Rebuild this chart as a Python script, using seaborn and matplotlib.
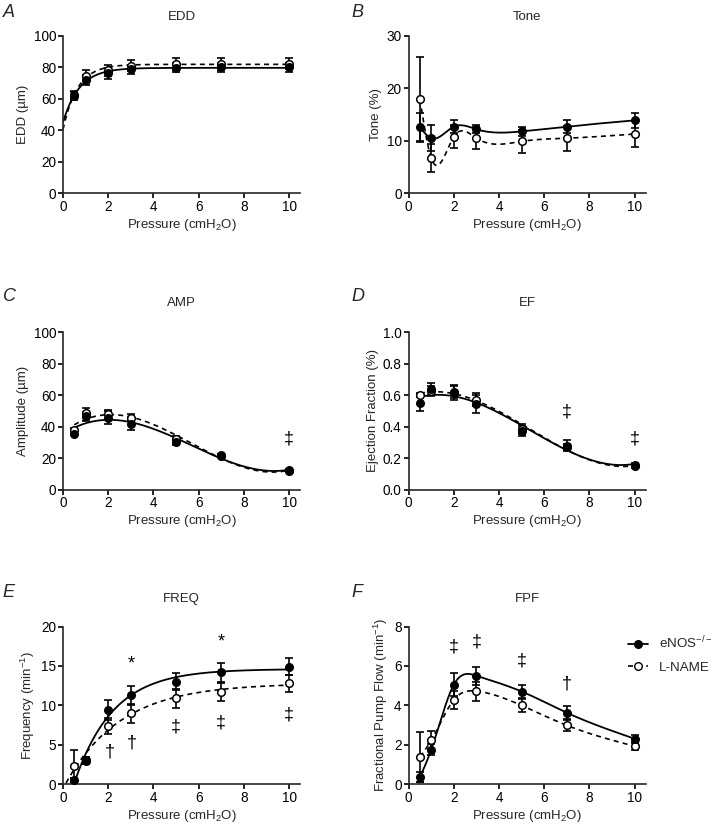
"""
Lymphatic pump function vs. transmural pressure, eNOS-/- vs L-NAME.
Six panels (EDD, Tone, AMP, EF, FREQ, FPF), mean +/- SEM with fitted curves.
"""

import numpy as np
import pandas as pd
import matplotlib
matplotlib.use("Agg")
import matplotlib.pyplot as plt
from matplotlib.lines import Line2D
from matplotlib.ticker import FormatStrFormatter
import seaborn as sns

# Data
PRESSURE = [0.5, 1, 2, 3, 5, 7, 10]

EDD_ENOS = [62.0, 72.0, 76.3, 78.8, 79.9, 80.0, 80.0]
EDD_ENOS_SEM = [2.5, 3.0, 3.5, 3.0, 3.0, 3.0, 3.0]
EDD_LNAME = [62.5, 74.6, 78.0, 81.1, 82.4, 82.4, 82.4]
EDD_LNAME_SEM = [2.5, 3.5, 3.5, 3.5, 3.8, 3.8, 3.5]

TONE_ENOS = [12.6, 10.5, 12.7, 12.2, 11.8, 12.7, 13.9]
TONE_ENOS_SEM = [2.7, 2.5, 1.3, 0.8, 0.9, 1.2, 1.4]
TONE_LNAME = [17.9, 6.7, 10.8, 10.5, 9.9, 10.5, 11.3]
TONE_LNAME_SEM = [8.1, 2.6, 2.2, 2.1, 2.2, 2.4, 2.5]

AMP_ENOS = [35.5, 46.5, 45.7, 41.4, 30.2, 21.8, 12.2]
AMP_ENOS_SEM = [1.0, 3.0, 4.0, 3.4, 2.0, 1.0, 1.0]
AMP_LNAME = [38.0, 48.6, 47.8, 45.7, 32.4, 21.5, 12.0]
AMP_LNAME_SEM = [1.0, 3.4, 2.8, 2.2, 1.5, 1.0, 1.0]

EF_ENOS = [0.55, 0.638, 0.613, 0.543, 0.37, 0.279, 0.158]
EF_ENOS_SEM = [0.05, 0.04, 0.043, 0.055, 0.032, 0.034, 0.01]
EF_LNAME = [0.60, 0.625, 0.621, 0.571, 0.385, 0.27, 0.148]
EF_LNAME_SEM = [0.01, 0.03, 0.04, 0.04, 0.03, 0.02, 0.01]

FREQ_ENOS = [0.5, 2.9, 9.4, 11.3, 13.0, 14.2, 14.9]
FREQ_ENOS_SEM = [0.3, 0.4, 1.3, 1.2, 1.1, 1.2, 1.1]
FREQ_LNAME = [2.3, 3.0, 7.4, 9.0, 10.9, 11.7, 12.8]
FREQ_LNAME_SEM = [2.0, 0.4, 1.0, 1.2, 1.2, 1.15, 1.1]

FPF_ENOS = [0.35, 1.75, 5.05, 5.5, 4.7, 3.62, 2.3]
FPF_ENOS_SEM = [0.25, 0.3, 0.6, 0.46, 0.34, 0.32, 0.2]
FPF_LNAME = [1.38, 2.22, 4.28, 4.72, 3.99, 2.98, 1.92]
FPF_LNAME_SEM = [1.26, 0.46, 0.45, 0.48, 0.34, 0.27, 0.2]

# significance marks: (pressure, y, symbol)
AMP_MARKS = [(10, 32.4, "‡")]
EF_MARKS = [(7, 0.49, "‡"), (10, 0.32, "‡")]
FREQ_MARKS = [(3, 15.2, "*"), (7, 18.1, "*"), (2.05, 4.1, "†"), (3.05, 5.25, "†"),
              (5, 7.3, "‡"), (7, 7.8, "‡"), (10, 8.8, "‡")]
FPF_MARKS = [(2, 6.94, "‡"), (3, 7.24, "‡"), (5, 6.27, "‡"), (7, 5.09, "†")]


# Curve helpers
def fit_exp(x, y, xs):
    # one-phase association y = a + b*exp(-k x), k by grid search
    x = np.asarray(x, float)
    y = np.asarray(y, float)
    best = None
    for k in np.linspace(0.05, 6, 600):
        M = np.column_stack([np.ones_like(x), np.exp(-k * x)])
        coef, res, _, _ = np.linalg.lstsq(M, y, rcond=None)
        err = np.sum((M @ coef - y) ** 2)
        if best is None or err < best[0]:
            best = (err, k, coef)
    _, k, (a, b) = best
    return a + b * np.exp(-k * xs)


def fit_poly(x, y, xs, deg=3):
    return np.polyval(np.polyfit(x, y, deg), xs)


def spline(x, y, xs):
    # natural cubic spline through the means
    x = np.asarray(x, float)
    y = np.asarray(y, float)
    n = len(x)
    h = np.diff(x)
    A = np.zeros((n, n))
    r = np.zeros(n)
    A[0, 0] = A[-1, -1] = 1
    for i in range(1, n - 1):
        A[i, i - 1] = h[i - 1]
        A[i, i] = 2 * (h[i - 1] + h[i])
        A[i, i + 1] = h[i]
        r[i] = 3 * ((y[i + 1] - y[i]) / h[i] - (y[i] - y[i - 1]) / h[i - 1])
    c = np.linalg.solve(A, r)
    b = (y[1:] - y[:-1]) / h - h * (2 * c[:-1] + c[1:]) / 3
    d = (c[1:] - c[:-1]) / (3 * h)
    idx = np.clip(np.searchsorted(x, xs) - 1, 0, n - 2)
    dx = xs - x[idx]
    return y[idx] + b[idx] * dx + c[idx] * dx ** 2 + d[idx] * dx ** 3


def curve(kind, y):
    if kind == "exp":
        xs = np.linspace(0, 10, 300)
        ys = fit_exp(PRESSURE, y, xs)
        keep = ys >= 0
        return xs[keep], ys[keep]
    xs = np.linspace(0.5, 10, 300)
    if kind == "poly":
        return xs, fit_poly(PRESSURE, y, xs)
    return xs, spline(PRESSURE, y, xs)


# Style
sns.set_theme(style="ticks")
plt.rcParams["font.family"] = ["Liberation Sans", "DejaVu Sans"]
plt.rcParams["mathtext.default"] = "regular"
plt.rcParams["axes.linewidth"] = 1.2
plt.rcParams["xtick.major.width"] = 1.2
plt.rcParams["ytick.major.width"] = 1.2
plt.rcParams["xtick.major.size"] = 3.5
plt.rcParams["ytick.major.size"] = 3.5
plt.rcParams["xtick.major.pad"] = 1.5
plt.rcParams["ytick.major.pad"] = 1.5

fig = plt.figure(figsize=(7.2, 8.3), dpi=100)

LEFT = [0.0875, 0.5676]
BOTTOM = [0.7671, 0.4102, 0.0554]
W, H = 0.3296, 0.1897

panels = [
    # letter, title, ylabel, enos, enos_sem, lname, lname_sem, fit, ylim, ystep, marks
    ("A", "EDD", "EDD (µm)", EDD_ENOS, EDD_ENOS_SEM, EDD_LNAME, EDD_LNAME_SEM, "exp", 100, 20, []),
    ("B", "Tone", "Tone (%)", TONE_ENOS, TONE_ENOS_SEM, TONE_LNAME, TONE_LNAME_SEM, "spline", 30, 10, []),
    ("C", "AMP", "Amplitude (µm)", AMP_ENOS, AMP_ENOS_SEM, AMP_LNAME, AMP_LNAME_SEM, "poly", 100, 20, AMP_MARKS),
    ("D", "EF", "Ejection Fraction (%)", EF_ENOS, EF_ENOS_SEM, EF_LNAME, EF_LNAME_SEM, "poly", 1.0, 0.2, EF_MARKS),
    ("E", "FREQ", "Frequency (min$^{-1}$)", FREQ_ENOS, FREQ_ENOS_SEM, FREQ_LNAME, FREQ_LNAME_SEM, "exp", 20, 5, FREQ_MARKS),
    ("F", "FPF", "Fractional Pump Flow (min$^{-1}$)", FPF_ENOS, FPF_ENOS_SEM, FPF_LNAME, FPF_LNAME_SEM, "spline", 8, 2, FPF_MARKS),
]

TITLE_Y = [0.980, 0.635, 0.278]
LETTER_Y = [0.985, 0.643, 0.286]

for i, (letter, title, ylabel, en, en_sem, ln, ln_sem, kind, ymax, ystep, marks) in enumerate(panels):
    row, col = divmod(i, 2)
    ax = fig.add_axes([LEFT[col], BOTTOM[row], W, H])

    # fitted curves
    xs, ys = curve(kind, ln)
    sns.lineplot(x=xs, y=ys, ax=ax, color="black", lw=1.2, linestyle=(0, (3, 2.5)), zorder=2)
    xs, ys = curve(kind, en)
    sns.lineplot(x=xs, y=ys, ax=ax, color="black", lw=1.3, zorder=2)

    # means +/- SEM
    ax.errorbar(PRESSURE, ln, yerr=ln_sem, fmt="none", ecolor="black", elinewidth=1.2,
                capsize=3, capthick=1.2, zorder=3)
    ax.errorbar(PRESSURE, en, yerr=en_sem, fmt="none", ecolor="black", elinewidth=1.2,
                capsize=3, capthick=1.2, zorder=3)
    sns.scatterplot(x=PRESSURE, y=ln, ax=ax, color="white", edgecolor="black",
                    linewidth=1.1, s=30, zorder=4)
    sns.scatterplot(x=PRESSURE, y=en, ax=ax, color="black", edgecolor="black",
                    linewidth=1.0, s=30, zorder=5)

    for px, py, sym in marks:
        ax.text(px, py, sym, ha="center", va="center", fontsize=13, color="black")

    ax.set_xlim(0, 10.5)
    ax.set_ylim(0, ymax)
    ax.set_xticks(range(0, 11, 2))
    ax.set_yticks(np.arange(0, ymax + ystep / 2, ystep))
    if ymax == 1.0:
        ax.yaxis.set_major_formatter(FormatStrFormatter("%.1f"))
    ax.tick_params(labelsize=9.8, colors="black", direction="out")
    ax.set_xlabel("Pressure (cmH$_2$O)", fontsize=9.5, labelpad=2)
    ax.set_ylabel(ylabel, fontsize=9.5, labelpad=3)
    sns.despine(ax=ax)

    cx = LEFT[col] + W * 0.5
    fig.text(cx, TITLE_Y[row], title, ha="center", va="center", fontsize=9.5)
    fig.text(0.004 if col == 0 else 0.488, LETTER_Y[row], letter, ha="left", va="center",
             fontsize=13, style="italic")

# legend to the right of panel F
handles = [
    Line2D([], [], color="black", lw=1.3, marker="o", markersize=5.5,
           markerfacecolor="black", markeredgecolor="black"),
    Line2D([], [], color="black", lw=1.2, linestyle=(0, (3, 2.5)), marker="o", markersize=5.5,
           markerfacecolor="white", markeredgecolor="black"),
]
fig.legend(handles, ["eNOS$^{-/-}$", "L-NAME"], loc="center left",
           bbox_to_anchor=(0.872, 0.212), frameon=False, fontsize=9.6,
           handlelength=1.5, handletextpad=0.8, labelspacing=0.75,
           borderpad=0, borderaxespad=0)

fig.savefig("out.png", dpi=100)
